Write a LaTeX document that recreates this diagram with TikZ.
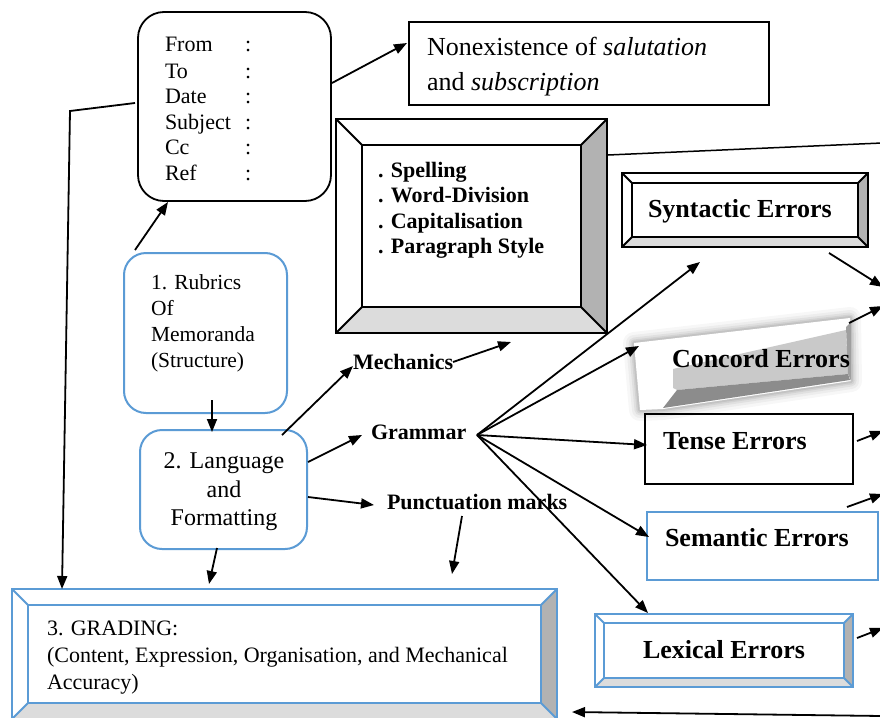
\documentclass[tikz,border=0pt]{standalone}
\usepackage{fontspec}
\setmainfont{Liberation Serif}
\usetikzlibrary{arrows.meta,fit}
\definecolor{bblue}{HTML}{5B9BD5}
\definecolor{bdark}{HTML}{B2B2B2}
\definecolor{blight}{HTML}{DCDCDC}
\newcommand\fs[2]{\fontsize{#1}{#2}\selectfont}
\newcommand\bevelit[3]{%
  \fill[bdark] (#1.north east) -- ([shift={(-#2,#2)}]#1.north east) -- ([shift={(-#2,-#2)}]#1.south east) -- (#1.south east) -- cycle;
  \fill[blight] (#1.south west) -- ([shift={(#2,-#2)}]#1.south west) -- ([shift={(-#2,-#2)}]#1.south east) -- (#1.south east) -- cycle;
  \draw[#3] (#1.north west) rectangle (#1.south east);
  \draw[#3] ([shift={(#2,#2)}]#1.north west) rectangle ([shift={(-#2,-#2)}]#1.south east);
  \draw[#3] (#1.north west) -- ([shift={(#2,#2)}]#1.north west);
  \draw[#3] (#1.north east) -- ([shift={(-#2,#2)}]#1.north east);
  \draw[#3] (#1.south east) -- ([shift={(-#2,-#2)}]#1.south east);
  \draw[#3] (#1.south west) -- ([shift={(#2,-#2)}]#1.south west);
}
\begin{document}
\begin{tikzpicture}[x=1pt,y=-1pt,line width=1.8pt,
  arr/.style={-{Triangle[length=13pt,width=10pt]},line width=1.8pt},
  frame/.style={inner sep=0pt,outer sep=0pt},
  bluebox/.style={frame,draw=bblue,line width=2pt},
  blackbox/.style={frame,draw=black,line width=1.8pt},
  lbl/.style={inner sep=0pt,outer sep=0pt,anchor=base west},
  hd/.style={lbl,font=\fs{22}{26}},
  bl/.style={lbl,font=\fs{22}{26}\bfseries},
  big/.style={lbl,font=\fs{26}{30}\bfseries}]
\clip (0,0) rectangle (880,717);
\fill[white] (0,0) rectangle (880,717);

% ---------- header box ----------
\node[blackbox,rounded corners=26pt,fit={(138,12)(331,201)}] (hdr) {};
\foreach \t/\y/\n in {From/52/a,To/78/b,Date/103/c,Subject/129/d,Cc/154/e,Ref/180/f}{
  \node[hd] (hl\n) at (165,\y) {\t};
  \node[hd] (hc\n) at (245,\y) {:};
}

% ---------- nonexistence box ----------
\node[blackbox,fit={(409,22)(769,105)}] (non) {};
\node[lbl,font=\fs{26}{30}] (non1) at (427,56) {Nonexistence of \textit{salutation}};
\node[lbl,font=\fs{26}{30}] (non2) at (427,90) {and \textit{subscription}};

% ---------- mechanics bevel box ----------
\node[frame,fill=white,fit={(336,119)(607,333)}] (mech) {};
\bevelit{mech}{26}{black,line width=1.8pt}
\node[bl] (m1) at (378,177) {. Spelling};
\node[bl] (m2) at (378,202) {. Word-Division};
\node[bl] (m3) at (378,228) {. Capitalisation};
\node[bl] (m4) at (378,253) {. Paragraph Style};
\coordinate (mechR) at (608,155);
\coordinate (offR1) at (882,143);
\draw[line width=1.5pt] (mechR) -- (offR1);

% ---------- syntactic ----------
\node[frame,fill=white,fit={(622,173)(868,247)}] (syn) {};
\bevelit{syn}{10}{black,line width=1.8pt}
\node[big] (synt) at (648,217) {Syntactic Errors};

% ---------- concord (3D slab) ----------
\def\conpoly{(634,343) -- (850,318) -- (851,381) -- (663,409) -- (640,410) -- cycle}
\foreach \w/\o in {22/0.03,16/0.04,11/0.05,7/0.06,4/0.07}{
  \draw[line width=\w pt,black,opacity=\o,line join=round] \conpoly;
}
\fill[white] \conpoly;
\fill[blight!80!gray] (673,369) -- (846,330) -- (848,374) -- (677,390) -- (673,388) -- cycle;
\fill[gray!90] (677,390) -- (848,374) -- (850,380) -- (663,408) -- cycle;
\fill[gray!75] (846,327) -- (851,322) -- (851,381) -- (848,374) -- cycle;
\node[big] (cont) at (672,367) {Concord Errors};

% ---------- tense ----------
\node[blackbox,fit={(645,414)(853,484)}] (ten) {};
\node[big] (tent) at (663,449) {Tense Errors};

% ---------- semantic ----------
\node[bluebox,fit={(647,512)(878,580)}] (sem) {};
\node[big] (semt) at (665,546) {Semantic Errors};

% ---------- lexical ----------
\node[frame,fill=white,fit={(595,614)(853,687)}] (lex) {};
\bevelit{lex}{9}{bblue,line width=2pt}
\node[big] (lext) at (643,658) {Lexical Errors};

% ---------- rubrics ----------
\node[bluebox,rounded corners=22pt,fit={(124,253)(287,413)}] (rub) {};
\node[lbl,font=\fs{21.5}{26}] (r1) at (151,289) {1. Rubrics};
\node[lbl,font=\fs{21.5}{26}] (r2) at (151,315) {Of};
\node[lbl,font=\fs{21.5}{26}] (r3) at (151,341) {Memoranda};
\node[lbl,font=\fs{21.5}{26}] (r4) at (151,367) {(Structure)};

% ---------- language ----------
\node[bluebox,rounded corners=22pt,fit={(140,430)(307,549)}] (lang) {};
\node[inner sep=0pt,anchor=base,font=\fs{24}{28}] (l1) at (224,468) {2. Language};
\node[inner sep=0pt,anchor=base,font=\fs{24}{28}] (l2) at (224,497) {and};
\node[inner sep=0pt,anchor=base,font=\fs{24}{28}] (l3) at (224,525) {Formatting};

% ---------- grading ----------
\node[frame,fill=white,fit={(12,589)(557,719)}] (grad) {};
\bevelit{grad}{16}{bblue,line width=2pt}
\node[lbl,font=\fs{22}{27}] (g1) at (47,635) {3. GRADING:};
\node[lbl,font=\fs{22}{27}] (g2) at (47,662) {(Content, Expression, Organisation, and Mechanical};
\node[lbl,font=\fs{22}{27}] (g3) at (47,689) {Accuracy)};

% ---------- middle labels ----------
\node[bl] (mechl) at (353,369) {Mechanics};
\node[bl] (gram) at (371,439) {Grammar};
\node[bl] (punc) at (387,509) {Punctuation marks};

% ---------- connectors ----------
\coordinate (hdrR) at (332,83);
\coordinate (nonL) at (407,43);
\draw[arr] (hdrR) -- (nonL);

\coordinate (hdrL) at (135,103);
\coordinate (bend) at (70,111);
\coordinate (gradT) at (62,589);
\draw[arr] (hdrL) -- (bend) -- (gradT);

\coordinate (rubT) at (135,250);
\coordinate (hdrB) at (168,202);
\draw[arr] (rubT) -- (hdrB);

\coordinate (rubB) at (212,400);
\coordinate (langT) at (212,432);
\draw[arr] (rubB) -- (langT);

\coordinate (langB) at (217,548);
\coordinate (gradT2) at (209,584);
\draw[arr] (langB) -- (gradT2);

\coordinate (langNE) at (282,435);
\coordinate (mechlW) at (353,366);
\draw[arr] (langNE) -- (mechlW);

\coordinate (langE1) at (308,462);
\coordinate (gramW) at (362,435);
\draw[arr] (langE1) -- (gramW);

\coordinate (langE2) at (308,497);
\coordinate (puncW) at (374,505);
\draw[arr] (langE2) -- (puncW);

\coordinate (puncB) at (462,516);
\coordinate (gradT3) at (452,574);
\draw[arr] (puncB) -- (gradT3);

\coordinate (mechlE) at (453,362);
\coordinate (mechB) at (511,342);
\draw[arr] (mechlE) -- (mechB);

\coordinate (apex) at (477,435);
\coordinate (synB) at (700,262);
\coordinate (conL) at (639,346);
\coordinate (tenL) at (647,445);
\coordinate (semL) at (649,537);
\coordinate (lexT) at (648,613);
\foreach \t in {synB,conL,tenL,semL,lexT}{
  \draw[arr] (apex) -- (\t);
}

% ---------- right edge arrows ----------
\coordinate (synO) at (829,253);  \coordinate (o1) at (883,287);
\coordinate (conO) at (849,323);  \coordinate (o2) at (883,306);
\coordinate (tenO) at (857,441);  \coordinate (o3) at (883,431);
\coordinate (semO) at (847,507);  \coordinate (o4) at (883,494);
\coordinate (lexO) at (857,638);  \coordinate (o5) at (883,628);
\draw[arr] (synO) -- (o1);
\draw[arr] (conO) -- (o2);
\draw[arr] (tenO) -- (o3);
\draw[arr] (semO) -- (o4);
\draw[arr] (lexO) -- (o5);

\coordinate (botR) at (882,716);
\coordinate (gradR) at (572,712);
\draw[arr] (botR) -- (gradR);
\end{tikzpicture}
\end{document}
